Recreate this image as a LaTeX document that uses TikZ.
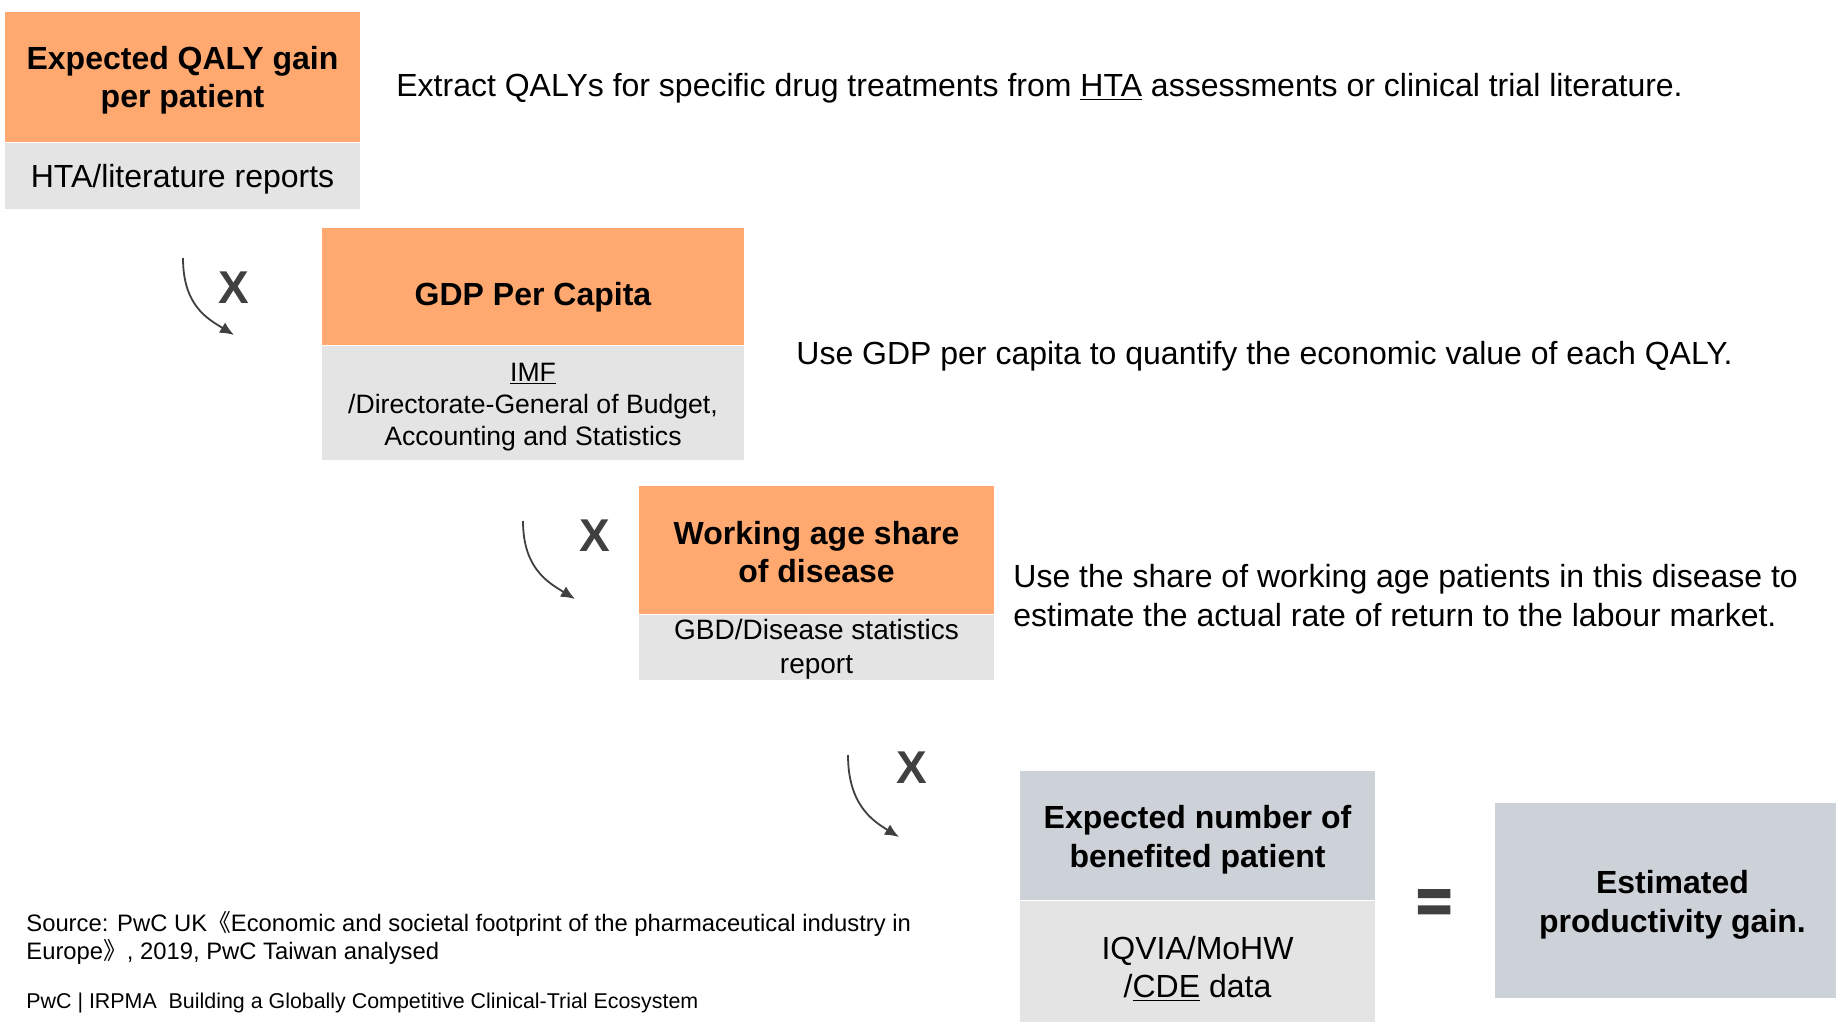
\documentclass[tikz,border=0pt]{standalone}
\usepackage{fontspec}
\setmainfont{Liberation Sans}
\newfontfamily\cjk{Noto Sans CJK TC}
\newfontfamily\eqfont[FakeBold=4]{Liberation Sans Bold}
\usetikzlibrary{arrows.meta,positioning}
\definecolor{qalyorange}{RGB}{255,169,112}
\definecolor{srcgray}{RGB}{228,228,228}
\definecolor{bluegray}{RGB}{205,209,216}
\definecolor{markgray}{RGB}{64,64,64}
\def\drop#1{\rule{0pt}{#1}}

\begin{document}
\begin{tikzpicture}[x=0.5pt,y=-0.5pt,
	titlebox/.style={fill=qalyorange, align=center, inner sep=0pt, font=\bfseries\fontsize{16}{19}\selectfont},
	srcbox/.style={fill=srcgray, align=center, inner sep=0pt, font=\fontsize{16}{19}\selectfont},
	resultbox/.style={fill=bluegray, align=center, inner sep=0pt, font=\bfseries\fontsize{16}{19.3}\selectfont},
	desc/.style={anchor=west, align=left, inner sep=0pt, font=\fontsize{16}{19.5}\selectfont},
	note/.style={anchor=west, align=left, inner sep=0pt, font=\fontsize{11.9}{14}\selectfont},
	timesmark/.style={text=markgray, inner sep=0pt, font=\bfseries\fontsize{23}{23}\selectfont},
	turnarrow/.style={draw=markgray, line width=0.9pt, -{Latex[length=7pt,width=6pt]}}]
		%%%%% START %%%%%
		\useasboundingbox (0, 0) rectangle (1836, 1022);
		
		% QALY gain
		\node[titlebox, minimum width=177.5pt, minimum height=65pt] (qaly) at (182.5, 77) {\drop{15pt}Expected QALY gain\\per patient};
		\node[srcbox, minimum width=177.5pt, minimum height=33pt, below=0pt of qaly] (qalysrc) {\drop{15pt}HTA/literature reports};
		\node[desc] (qalytxt) at (396, 88) {Extract QALYs for specific drug treatments from \underline{HTA} assessments or clinical trial literature.};
		
		% GDP per capita
		\node[titlebox, minimum width=211pt, minimum height=58.5pt] (gdp) at (533, 286.5) {\drop{22pt}GDP Per Capita};
		\node[srcbox, minimum width=211pt, minimum height=57pt, below=0pt of gdp, font=\fontsize{13.3}{16}\selectfont] (gdpsrc) {\drop{13pt}\underline{IMF}\\/Directorate-General of Budget,\\Accounting and Statistics};
		\node[desc] (gdptxt) at (796, 356) {Use GDP per capita to quantify the economic value of each QALY.};
		
		% working age share
		\node[titlebox, minimum width=177.5pt, minimum height=64pt] (work) at (816.5, 550) {\drop{14pt}Working age share\\of disease};
		\node[srcbox, minimum width=177.5pt, minimum height=32pt, below=0pt of work, font=\fontsize{14}{17}\selectfont] (worksrc) {\drop{12.5pt}GBD/Disease statistics\\report};
		\node[desc] (worktxt) at (1013, 596) {Use the share of working age patients in this disease to\\estimate the actual rate of return to the labour market.};
		
		% benefited patients and result
		\node[resultbox, minimum width=177.5pt, minimum height=64.5pt] (patients) at (1197.5, 835.5) {\drop{16pt}Expected number of\\benefited patient};
		\node[srcbox, minimum width=177.5pt, minimum height=60.5pt, below=0pt of patients] (patientsrc) {\drop{19pt}IQVIA/MoHW\\/\underline{CDE} data};
		\node[text=markgray, inner sep=0pt, font=\eqfont\fontsize{30}{30}\selectfont] (equals) at (1434, 906) {=};
		\node[resultbox, minimum width=177.5pt, minimum height=97.5pt] (gain) at (1672.5, 900.5) {\drop{16pt}Estimated\\productivity gain.};
		
		% times marks
		\node[timesmark] (times1) at (234, 288) {X};
		\node[timesmark] (times2) at (595, 536) {X};
		\node[timesmark] (times3) at (912, 768) {X};
		
		\coordinate (a1s) at (183, 258);
		\coordinate (a1e) at (234, 335);
		\coordinate (a2s) at (523, 521);
		\coordinate (a2e) at (575, 599);
		\coordinate (a3s) at (848, 755);
		\coordinate (a3e) at (899, 837);
		\draw[turnarrow] (a1s) .. controls +(0, 48) and +(-26, -16) .. (a1e);
		\draw[turnarrow] (a2s) .. controls +(0, 48) and +(-26, -16) .. (a2e);
		\draw[turnarrow] (a3s) .. controls +(0, 50) and +(-26, -16) .. (a3e);
		
		% source
		\node[note] (source) at (26, 938) {Source: PwC UK{\cjk 《}Economic and societal footprint of the pharmaceutical industry in\\Europe{\cjk 》}, 2019, PwC Taiwan analysed};
		\node[note, font=\fontsize{10.7}{13}\selectfont] (footer) at (26, 1003) {PwC | IRPMA\ \ Building a Globally Competitive Clinical-Trial Ecosystem};
		%%%%% END %%%%%
\end{tikzpicture}
\end{document}
